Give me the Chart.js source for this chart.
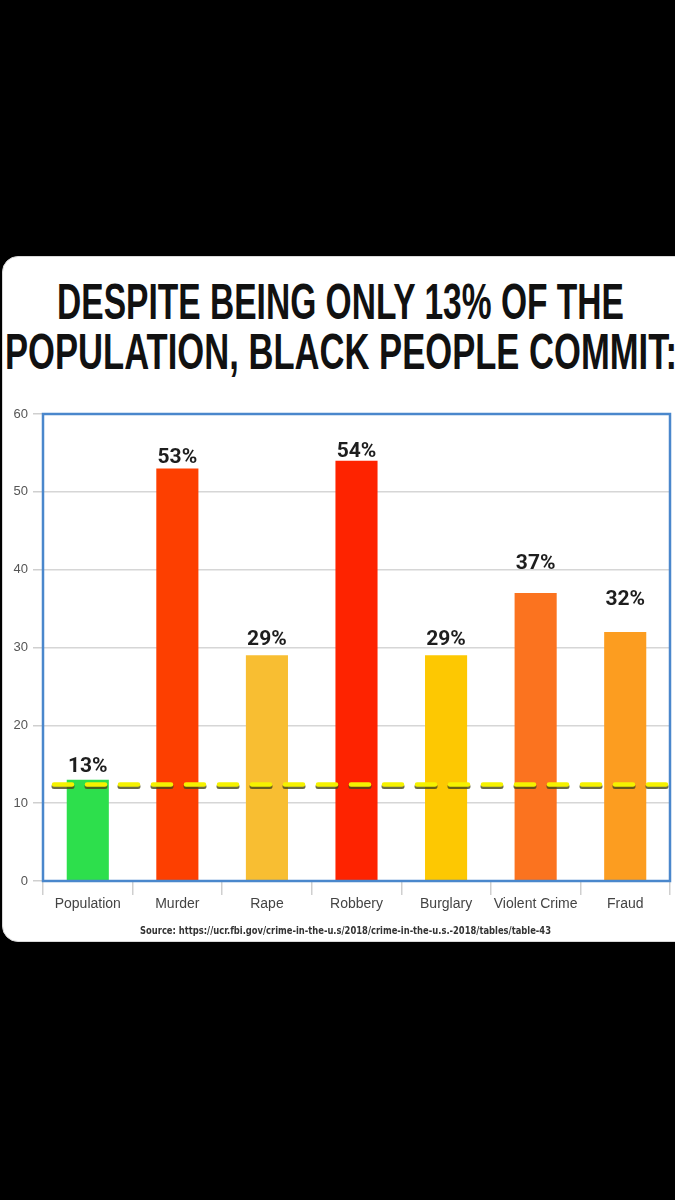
<!DOCTYPE html>
<html>
<head>
<meta charset="utf-8">
<script src="https://cdn.jsdelivr.net/npm/chart.js@4.4.1/dist/chart.umd.min.js"></script>
<style>
  html, body { margin:0; padding:0; background:#000; width:675px; height:1200px; overflow:hidden; }
  #card { position:absolute; left:2px; top:256px; width:690px; height:686px; background:#fff;
          border:1px solid #d8d8d8; border-radius:16px; box-sizing:border-box; }
  .title { position:absolute; left:0; white-space:nowrap; font-family:"Liberation Sans Narrow", "Liberation Sans", sans-serif;
           font-weight:bold; font-size:50px; line-height:50px; color:#111; transform-origin:0 0; }
  #src { position:absolute; white-space:nowrap; font-family:"DejaVu Sans Condensed", "DejaVu Sans", sans-serif;
         font-weight:bold; font-size:10px; line-height:12px; color:#333; transform-origin:0 0; }
  #wrap { position:absolute; left:0; top:400px; width:675px; height:545px; }
</style>
</head>
<body>
<div id="card"></div>
<div class="title" id="t1">DESPITE BEING ONLY 13% OF THE</div>
<div class="title" id="t2">POPULATION, BLACK PEOPLE COMMIT:</div>
<div id="wrap"><canvas id="c" width="675" height="545"></canvas></div>
<div id="src">Source: https://ucr.fbi.gov/crime-in-the-u.s/2018/crime-in-the-u.s.-2018/tables/table-43</div>
<script>
// ---- data ----
const categories = ["Population", "Murder", "Rape", "Robbery", "Burglary", "Violent Crime", "Fraud"];
const values = [13, 53, 29, 54, 29, 37, 32];
const valueLabels = ["13%", "53%", "29%", "54%", "29%", "37%", "32%"];
const barColors = ["#2ddf4c", "#fd3f00", "#f8be32", "#fe2300", "#fdc802", "#fb731f", "#fc9d20"];
const referenceLine = 12.4;
const yTicks = [0, 10, 20, 30, 40, 50, 60];
// label lift above bar (style only)
const labelLift = [8, 5, 10, 4, 10, 24, 27];

function fit(id, left, top, width) {
  const el = document.getElementById(id);
  const w = el.getBoundingClientRect().width;
  el.style.left = left + "px";
  el.style.top = top + "px";
  el.style.transform = "scaleX(" + (width / w) + ")";
}
fit("t1", 57, 277, 567);
fit("t2", 5, 327, 672);
fit("src", 140, 925, 411);

const overlay = {
  id: "overlay",
  afterDatasetsDraw(chart) {
    const ctx = chart.ctx, a = chart.chartArea, y = chart.scales.y;
    ctx.save();
    ctx.strokeStyle = "#4a87cc";
    ctx.lineWidth = 2.5;
    ctx.strokeRect(a.left, a.top, a.right - a.left, a.bottom - a.top);
    const ry = y.getPixelForValue(referenceLine);
    ctx.setLineDash([18, 15]);
    ctx.lineCap = "round";
    ctx.lineWidth = 5;
    ctx.strokeStyle = "rgba(70,70,25,0.8)";
    ctx.beginPath(); ctx.moveTo(a.left + 11, ry + 2); ctx.lineTo(a.right - 4, ry + 2); ctx.stroke();
    ctx.lineWidth = 4.5;
    ctx.strokeStyle = "#f5f200";
    ctx.beginPath(); ctx.moveTo(a.left + 11, ry); ctx.lineTo(a.right - 4, ry); ctx.stroke();
    ctx.setLineDash([]);
    const meta = chart.getDatasetMeta(0);
    ctx.fillStyle = "#1e1e1e";
    ctx.font = "bold 21px Roboto, 'Liberation Sans', sans-serif";
    ctx.textAlign = "center";
    ctx.textBaseline = "alphabetic";
    meta.data.forEach((bar, i) => {
      ctx.fillText(valueLabels[i], bar.x, bar.y - labelLift[i]);
    });
    ctx.restore();
  }
};

new Chart(document.getElementById("c"), {
  type: "bar",
  data: {
    labels: categories,
    datasets: [{ data: values, backgroundColor: barColors, borderWidth: 0,
                 barPercentage: 0.47, categoryPercentage: 1 }]
  },
  options: {
    responsive: false,
    animation: false,
    events: [],
    layout: { padding: { top: 14, right: 5, bottom: 24, left: 0 } },
    plugins: { legend: { display: false }, tooltip: { enabled: false } },
    scales: {
      x: {
        offset: true,
        grid: { offset: true, drawOnChartArea: false, drawTicks: true, tickLength: 14, color: "#cfcfcf", lineWidth: 1.5 },
        border: { display: false },
        ticks: { color: "#444", padding: 1, maxRotation: 0, minRotation: 0, autoSkip: false,
                 font: { family: "'Liberation Sans Narrow', 'Liberation Sans', sans-serif", size: 14 } },
        afterFit(s) { s.height = 40; }
      },
      y: {
        min: 0, max: 60,
        afterBuildTicks(s) { s.ticks = yTicks.map(v => ({ value: v })); },
        grid: { color: "#d6d6d6", lineWidth: 1.5, tickLength: 10, tickColor: "#cfcfcf" },
        border: { display: false },
        ticks: { color: "#555", padding: 5, font: { family: "'Liberation Sans Narrow', 'Liberation Sans', sans-serif", size: 13 } },
        afterFit(s) { s.width = 43; }
      }
    }
  },
  plugins: [overlay]
});
</script>
</body>
</html>
